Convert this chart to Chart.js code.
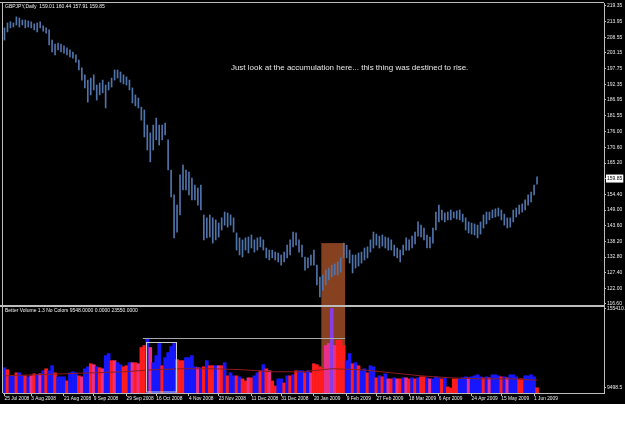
<!DOCTYPE html>
<html>
<head>
<meta charset="utf-8">
<script src="https://cdn.jsdelivr.net/npm/chart.js@4.4.0/dist/chart.umd.min.js"></script>
<style>
html, body { margin: 0; padding: 0; background: #fff; }
#wrap { position: absolute; left: 0; top: 0; width: 625px; height: 404px; background: #000; }
</style>
</head>
<body>
<div id="wrap"><canvas id="chart" width="625" height="404"></canvas></div>
<script>
// GBPJPY daily, Jul 2008 - Jun 2009, plus Better Volume pane
const slotCount = 202; // bar slots on the time axis (right part left empty like MT4 chart shift)

const dateLabels = ['25 Jul 2008', '3 Aug 2008', '21 Aug 2008', '9 Sep 2008', '29 Sep 2008', '16 Oct 2008',
    '4 Nov 2008', '23 Nov 2008', '11 Dec 2008', '31 Dec 2008', '20 Jan 2009', '9 Feb 2009', '27 Feb 2009',
    '18 Mar 2009', '6 Apr 2009', '24 Apr 2009', '15 May 2009', '1 Jun 2009'];
const dateIdx = [0, 9, 20, 30, 41, 51, 62, 72, 83, 93, 104, 115, 125, 136, 146, 157, 167, 178];

const highs = [
    211.8, 213.5, 213.9, 213.5, 215.6, 215.2, 214.5, 214.5, 214.2, 213.9,
    213.2, 213.5, 213.9, 212.5, 211.8, 211.1, 207.6, 206.2, 206.6, 206.2,
    205.6, 204.9, 204.2, 203.5, 202.5, 200.7, 198.0, 195.6, 193.8, 194.5,
    195.6, 192.1, 192.8, 193.8, 192.1, 193.1, 194.5, 197.3, 197.3, 196.6,
    195.6, 194.9, 193.8, 191.1, 188.7, 187.6, 184.5, 183.5, 178.3, 175.6,
    178.3, 180.7, 178.3, 178.3, 179.0, 173.2, 162.8, 154.2, 150.7, 161.1,
    164.5, 162.8, 162.1, 160.0, 157.6, 156.6, 157.6, 147.3, 146.3, 147.3,
    146.3, 145.6, 144.5, 146.3, 148.3, 148.0, 147.3, 146.3, 141.1, 139.4,
    138.7, 139.4, 139.7, 140.4, 138.7, 139.4, 139.7, 138.7, 135.9, 135.2,
    135.2, 134.5, 134.2, 133.5, 134.5, 136.9, 138.7, 141.4, 141.1, 138.7,
    136.9, 132.8, 132.5, 133.5, 135.2, 130.0, 125.9, 126.6, 128.3, 129.0,
    130.0, 130.4, 131.1, 132.5, 137.6, 136.9, 135.2, 133.5, 133.5, 134.2,
    134.5, 135.9, 136.3, 138.7, 141.4, 140.7, 140.0, 140.4, 139.7, 139.4,
    138.7, 136.9, 135.9, 135.2, 136.9, 139.4, 138.7, 140.0, 141.4, 144.9,
    143.8, 142.8, 140.4, 139.7, 142.8, 148.3, 150.7, 149.0, 148.0, 148.3,
    149.0, 148.3, 148.7, 149.0, 147.6, 146.3, 144.9, 144.5, 144.2, 143.8,
    144.9, 147.3, 148.3, 148.3, 149.0, 149.4, 149.7, 149.0, 147.6, 146.3,
    146.3, 149.0, 149.7, 150.7, 151.1, 152.5, 154.2, 155.2, 157.6, 160.44
];
const lows = [
    207.6, 210.4, 211.8, 212.1, 212.8, 212.1, 212.8, 211.8, 212.1, 211.8,
    211.1, 210.4, 211.8, 210.7, 210.0, 205.9, 203.5, 202.5, 204.2, 203.5,
    203.1, 202.5, 201.8, 201.4, 200.0, 197.3, 193.8, 191.1, 186.2, 188.7,
    190.4, 186.9, 188.7, 189.4, 184.2, 190.4, 191.4, 193.8, 194.5, 193.1,
    192.5, 192.1, 190.4, 185.9, 184.9, 184.2, 180.0, 174.2, 169.7, 165.6,
    169.7, 173.2, 171.4, 173.2, 174.9, 162.8, 153.5, 139.4, 141.4, 147.3,
    155.9, 155.9, 154.2, 152.5, 152.5, 150.7, 149.0, 138.7, 139.4, 139.7,
    137.6, 138.7, 139.7, 142.1, 143.8, 143.1, 143.8, 141.4, 135.2, 133.5,
    132.8, 135.2, 134.2, 135.9, 134.5, 135.2, 136.3, 135.2, 132.5, 131.8,
    132.5, 131.8, 131.1, 130.0, 131.1, 132.5, 133.5, 136.3, 136.9, 134.5,
    132.8, 128.3, 129.0, 130.0, 130.0, 123.2, 119.0, 121.4, 123.2, 124.9,
    125.9, 126.6, 126.6, 127.6, 132.5, 132.5, 130.7, 127.3, 129.0, 129.7,
    130.7, 131.8, 132.5, 134.5, 135.9, 136.9, 135.9, 136.6, 135.9, 135.2,
    135.2, 133.2, 132.5, 131.1, 133.5, 135.2, 135.2, 135.9, 137.3, 140.0,
    139.7, 138.7, 135.9, 135.9, 137.6, 142.1, 144.9, 145.6, 144.9, 145.6,
    145.6, 146.3, 145.9, 145.6, 144.9, 142.1, 141.1, 140.7, 140.4, 139.4,
    140.7, 142.8, 144.2, 145.6, 146.3, 146.6, 146.9, 145.6, 143.8, 142.8,
    143.1, 144.9, 146.6, 147.6, 148.3, 149.0, 150.7, 151.8, 154.2, 157.91
];

const volumes = [
    46500, 42800, 31600, 31600, 37200, 37200, 31600, 31600, 29800, 31600,
    35300, 33500, 35300, 40900, 44600, 40900, 50200, 37200, 29800, 29800,
    29800, 22300, 37200, 39000, 37200, 31600, 29800, 44600, 48300, 53900,
    52100, 48300, 46500, 44600, 68800, 72500, 59500, 59500, 55800, 52100,
    48300, 50200, 55800, 55800, 55800, 53900, 83700, 87400, 100400, 83700,
    55800, 68800, 91100, 50200, 65100, 74400, 85500, 91100, 61400, 59500,
    59500, 65100, 65100, 68800, 48300, 46500, 46500, 48300, 59500, 50200,
    50200, 50200, 50200, 50200, 55800, 31600, 37200, 31600, 31600, 29800,
    26000, 22300, 27900, 27900, 31600, 37200, 40900, 52100, 44600, 40900,
    22300, 13000, 26000, 26000, 18600, 31600, 31600, 33500, 40900, 40900,
    40900, 37200, 40900, 37200, 53900, 52100, 48300, 44600, 87400, 91100,
    155410, 87400, 96700, 96700, 87400, 59500, 72500, 53900, 55800, 50200,
    40900, 44600, 37200, 50200, 48300, 27900, 31600, 29800, 35300, 26000,
    26000, 27900, 26000, 26000, 27900, 27900, 26000, 27900, 26000, 27900,
    29800, 29800, 27900, 26000, 26000, 29800, 27900, 26000, 27900, 11200,
    9300, 26000, 26000, 26000, 27900, 29800, 27900, 29800, 31600, 33500,
    29800, 27900, 29800, 27900, 33500, 33500, 31600, 29800, 29800, 27900,
    33500, 33500, 29800, 26000, 26000, 31600, 31600, 33500, 29800, 9548
];
// volume class per bar: B blue, R red, P pink/magenta, U violet climax
const volClass = ('BRBBRBBRBP RBPBRBBRBB BRBBBRPBBR PBRPBBRPBB RRBPRPRRBP BBBRBBBBPR ' +
    'RBBBBPBRBR RBPRBRBBRB RRPRBBRBRP RRBBRBRBRB BRBPRRRRPP UPRRRBBRBR ' +
    'BBRBBRBRBP RBPRBPRBRB RRBPBBBRBR RRRBBBPBBB BRBPBBBRBP BBBRRBBBBR').replace(/ /g, '');

// average volume line, read every 10 bars
const maIdx = [0, 10, 20, 30, 40, 50, 60, 70, 80, 90, 100, 110, 120, 130, 140, 150, 160, 170, 179];
const maVals = [31600, 33500, 35300, 37200, 39000, 42800, 44600, 44600, 42800, 39000,
    39000, 44600, 42800, 37200, 31600, 27900, 26000, 26000, 23550];

const priceTicks = [116.60, 122.00, 127.40, 132.80, 138.20, 143.60, 149.00, 154.40, 159.85, 165.20,
    170.60, 176.00, 181.55, 186.95, 192.35, 197.75, 203.15, 208.55, 213.95, 219.35];
const lastPrice = 159.85;
const volTicks = [9498.5, 155410.3];

const headerText = 'GBPJPY,Daily  159.01 160.44 157.91 159.85';
const volHeader = 'Better Volume 1.3 No Colors 9548.0000 0.0000 23550.0000';
const noteText = 'Just look at the accumulation here... this thing was destined to rise.';

// highlighted zones (bar index / value)
const boxFrom = 107, boxTo = 114, boxTop = 137.6;
const outlineFrom = 48, outlineTo = 57, outlineTop = 93000;
const levelFrom = 47, levelTo = 114, levelValue = 100400;

const classColors = { B: '#1616ff', R: '#ff1c1c', P: '#e8308a', U: '#8a3ce6' };

const labels = Array(slotCount).fill('');
dateIdx.forEach((i, k) => { labels[i] = dateLabels[k]; });
const maData = Array(slotCount).fill(null);
maIdx.forEach((i, k) => { maData[i] = maVals[k]; });

Chart.defaults.font.family = 'Liberation Sans';

const frameColor = '#bdbdbd';

const overlay = {
    id: 'overlay',
    beforeDatasetsDraw(chart) {
        const { ctx, chartArea, scales } = chart;
        const half = chartArea.width / slotCount / 2;
        const l = scales.x.getPixelForValue(boxFrom) - half;
        const r = scales.x.getPixelForValue(boxTo) + half;
        const t = scales.y.getPixelForValue(boxTop);
        ctx.save();
        ctx.fillStyle = '#864220';
        ctx.fillRect(l, t, r - l, chartArea.bottom - t);
        ctx.restore();
    },
    afterDatasetsDraw(chart) {
        const { ctx, chartArea, scales } = chart;
        const half = chartArea.width / slotCount / 2;
        ctx.save();
        // level line across the volume pane
        ctx.strokeStyle = '#a8a8a8';
        ctx.lineWidth = 1;
        const ly = Math.round(scales.y2.getPixelForValue(levelValue)) + 0.5;
        ctx.beginPath();
        ctx.moveTo(scales.x.getPixelForValue(levelFrom) - half, ly);
        ctx.lineTo(scales.x.getPixelForValue(levelTo) + half, ly);
        ctx.stroke();
        // outlined October volume cluster
        ctx.strokeStyle = '#c8c8c8';
        const ol = Math.round(scales.x.getPixelForValue(outlineFrom) - half) + 0.5;
        const orr = Math.round(scales.x.getPixelForValue(outlineTo) + half) + 0.5;
        const ot = Math.round(scales.y2.getPixelForValue(outlineTop)) + 0.5;
        ctx.strokeRect(ol, ot, orr - ol, chartArea.bottom - 1 - ot);

        // frame and pane separator
        ctx.strokeStyle = frameColor;
        ctx.beginPath();
        ctx.moveTo(0, 2.5); ctx.lineTo(chartArea.right, 2.5);
        ctx.moveTo(2.5, 2); ctx.lineTo(2.5, chartArea.bottom);
        ctx.stroke();
        ctx.lineWidth = 2;
        const sep = scales.y.bottom;
        ctx.beginPath();
        ctx.moveTo(0, sep); ctx.lineTo(chartArea.right, sep);
        ctx.stroke();

        // texts
        ctx.fillStyle = '#f0f0f0';
        ctx.textBaseline = 'middle';
        ctx.font = '5px Liberation Sans';
        ctx.fillText(headerText, 5, 7);
        ctx.fillText(volHeader, 5, sep + 5);
        ctx.font = '8px Liberation Sans';
        ctx.textAlign = 'center';
        ctx.fillStyle = '#e6e6e6';
        ctx.fillText(noteText, scales.x.getPixelForValue(116), scales.y.getPixelForValue(198));
        ctx.restore();
    }
};

const noPad = (scale) => { scale.paddingTop = 0; scale.paddingBottom = 0; scale.paddingLeft = 0; scale.paddingRight = 0; };

new Chart(document.getElementById('chart'), {
    type: 'bar',
    data: {
        labels: labels,
        datasets: [
            {
                type: 'line',
                data: maData,
                yAxisID: 'y2',
                spanGaps: true,
                borderColor: '#8e1c1c',
                borderWidth: 1,
                pointRadius: 0,
                tension: 0,
                order: 0
            },
            {
                data: highs.map((h, i) => [lows[i], h]),
                yAxisID: 'y',
                backgroundColor: '#5073aa',
                barThickness: 1,
                grouped: false,
                order: 1
            },
            {
                data: volumes,
                yAxisID: 'y2',
                backgroundColor: volumes.map((v, i) => classColors[volClass[i]]),
                barPercentage: 1,
                categoryPercentage: 1,
                grouped: false,
                order: 2
            }
        ]
    },
    options: {
        responsive: false,
        animation: false,
        layout: { padding: { left: 3, top: 3, right: 0, bottom: 0 } },
        plugins: { legend: { display: false }, tooltip: { enabled: false } },
        scales: {
            x: {
                offset: true,
                border: { display: true, color: frameColor },
                grid: {
                    drawOnChartArea: false,
                    offset: false,
                    tickLength: 3,
                    color: (c) => (c.tick && c.tick.label) ? frameColor : 'rgba(0,0,0,0)'
                },
                ticks: {
                    autoSkip: false,
                    maxRotation: 0,
                    minRotation: 0,
                    align: 'start',
                    padding: 0,
                    color: '#f0f0f0',
                    font: { size: 4.8 }
                },
                afterFit: (s) => { s.height = 11; noPad(s); }
            },
            y: {
                position: 'right',
                stack: 'panes',
                stackWeight: 303,
                min: 115.91,
                max: 220.38,
                border: { display: true, color: frameColor },
                grid: { drawOnChartArea: false, tickLength: 2, color: frameColor },
                afterBuildTicks: (s) => { s.ticks = priceTicks.map(v => ({ value: v })); },
                ticks: {
                    autoSkip: false,
                    padding: 1,
                    font: { size: 5 },
                    color: (c) => c.tick && c.tick.value === lastPrice ? '#000' : '#e8e8e8',
                    showLabelBackdrop: (c) => !!(c.tick && c.tick.value === lastPrice),
                    backdropColor: '#fff',
                    backdropPadding: 1,
                    callback: (v) => Number(v).toFixed(2)
                },
                afterFit: (s) => { s.width = 21; noPad(s); }
            },
            y2: {
                position: 'right',
                stack: 'panes',
                stackWeight: 87,
                min: 0,
                max: 160000,
                border: { display: true, color: frameColor },
                grid: { drawOnChartArea: false, tickLength: 2, color: frameColor },
                afterBuildTicks: (s) => { s.ticks = volTicks.map(v => ({ value: v })); },
                ticks: {
                    autoSkip: false,
                    padding: 1,
                    font: { size: 5 },
                    color: '#e8e8e8',
                    callback: (v) => String(v)
                },
                afterFit: (s) => { s.width = 21; noPad(s); }
            }
        }
    },
    plugins: [overlay]
});
</script>
</body>
</html>
